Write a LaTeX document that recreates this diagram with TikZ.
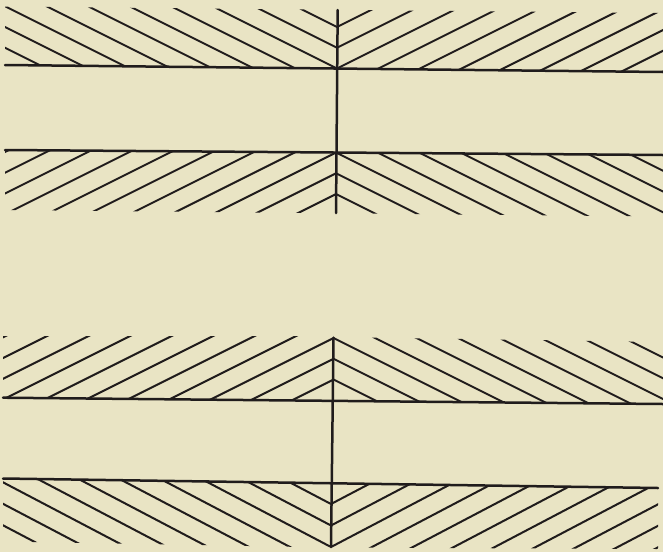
\documentclass[tikz,border=0pt]{standalone}
\definecolor{paper}{RGB}{233,228,196}
\definecolor{ink}{RGB}{32,28,28}
\begin{document}
\begin{tikzpicture}[x=1pt,y=-1pt,
  hatch/.style={ink,line width=2pt},
  rule/.style={ink,line width=2.5pt,line cap=round}]
\fill[paper] (0,0) rectangle (663,552);
\useasboundingbox (0,0) rectangle (663,552);

% ================= upper figure =================
% hatching above the upper line
\begin{scope}
  \clip (5,6.5) -- (337,9.8) -- (337,68.5) -- (5,65) -- cycle;
  \foreach \k in {-9,...,2}
    \draw[hatch] ({337-400},{68.5-20.75*\k-200}) -- ({337+400},{68.5-20.75*\k+200});
\end{scope}
\begin{scope}
  \clip (337,9.8) -- (663,13) -- (663,72) -- (337,68.5) -- cycle;
  \foreach \k in {-9,...,2}
    \draw[hatch] ({337-400},{68.5-20.75*\k+200}) -- ({337+400},{68.5-20.75*\k-200});
\end{scope}
% hatching below the lower line
\begin{scope}
  \clip (5,150) -- (336,152.5) -- (336,213.3) -- (5,210) -- cycle;
  \foreach \k in {-10,...,3}
    \draw[hatch] ({336-400},{152.5+20.75*\k+200}) -- ({336+400},{152.5+20.75*\k-200});
\end{scope}
\begin{scope}
  \clip (336,152.5) -- (663,155) -- (663,216.5) -- (336,213.3) -- cycle;
  \foreach \k in {-10,...,3}
    \draw[hatch] ({336-400},{152.5+20.75*\k-200}) -- ({336+400},{152.5+20.75*\k+200});
\end{scope}
\draw[rule] (5,65) -- (663,72);
\draw[rule] (5,150) -- (663,155);
\draw[rule] (337.7,10) -- (336,213);

% ================= lower figure =================
% hatching above the upper line (apex up)
\begin{scope}
  \clip (3,336) -- (333.5,336) -- (333.5,400.9) -- (3,397.7) -- cycle;
  \foreach \k in {-17,...,2}
    \draw[hatch] ({333.5-400},{338+20.75*\k+200}) -- ({333.5+400},{338+20.75*\k-200});
\end{scope}
\begin{scope}
  \clip (333.5,337) -- (663,342) -- (663,404) -- (333.5,400.9) -- cycle;
  \foreach \k in {-17,...,2}
    \draw[hatch] ({333.5-400},{338+20.75*\k-200}) -- ({333.5+400},{338+20.75*\k+200});
\end{scope}
% hatching below the lower line (vertex down)
\begin{scope}
  \clip (3,478.5) -- (331,483.2) -- (331,547.5) -- (3,541.5) -- cycle;
  \foreach \k in {-10,...,2}
    \draw[hatch] ({331-400},{547-21.5*\k-210}) -- ({331+400},{547-21.5*\k+210});
\end{scope}
\begin{scope}
  \clip (331,483.2) -- (658,488) -- (658,549) -- (331,547.5) -- cycle;
  \foreach \k in {-10,...,2}
    \draw[hatch] ({331-400},{547-21.5*\k+210}) -- ({331+400},{547-21.5*\k-210});
\end{scope}
\draw[rule] (3,397.7) -- (663,404);
\draw[rule] (3,478.5) -- (658,488);
\draw[rule] (333.5,337.7) -- (331,547);
\end{tikzpicture}
\end{document}
